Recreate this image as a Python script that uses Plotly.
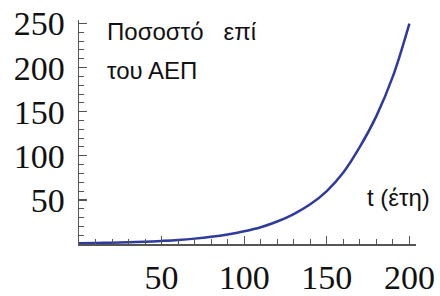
import plotly.graph_objects as go

# Years and share of GDP
t_years = [0, 10, 20, 30, 40, 50, 60, 70, 80, 90, 100, 110, 120, 130, 140, 150, 160, 170, 180, 190, 200]
share = [0.8, 1.1, 1.5, 1.9, 2.6, 3.5, 4.6, 6.1, 8.1, 10.8, 14.4, 19, 25.5, 34, 45, 60, 81, 110, 145, 190, 250]

x_ticks = [50, 100, 150, 200]
y_ticks = [50, 100, 150, 200, 250]

axis_color = "#555555"
curve_color = "#2E3A9C"

fig = go.Figure()
fig.add_trace(go.Scatter(x=t_years, y=share, mode="lines", line=dict(color=curve_color, width=2.5, shape="spline"), showlegend=False, hoverinfo="skip"))

tick_font = dict(family="Liberation Serif", size=34, color="#111111")

PW, PH = 440 - 79 - 24, 296 - 20 - 52

fig.update_layout(
    width=440, height=296,
    margin=dict(l=79, r=24, t=20, b=52),
    paper_bgcolor="white", plot_bgcolor="white",
    xaxis=dict(range=[0, 204], tickvals=x_ticks, ticktext=[str(v) for v in x_ticks], automargin=False,
               showgrid=False, zeroline=False, showline=True, linecolor=axis_color, linewidth=1.5,
               ticks="inside", ticklen=8, tickwidth=1.2, tickcolor=axis_color,
               minor=dict(dtick=10, tick0=0, ticks="inside", ticklen=5, tickwidth=1, tickcolor=axis_color),
               tickfont=tick_font, ticklabelstandoff=3, ticklabeloverflow="allow", fixedrange=True),
    yaxis=dict(range=[0, 254], tickvals=y_ticks, ticktext=[str(v) for v in y_ticks], automargin=False,
               showgrid=False, zeroline=False, showline=True, linecolor=axis_color, linewidth=1.5,
               ticks="inside", ticklen=8, tickwidth=1.2, tickcolor=axis_color,
               minor=dict(dtick=10, tick0=0, ticks="inside", ticklen=5, tickwidth=1, tickcolor=axis_color),
               tickfont=tick_font, ticklabelstandoff=6, ticklabeloverflow="allow", fixedrange=True),
)

label_font = dict(family="Liberation Sans", size=24, color="#111111")
fig.add_annotation(text="Ποσοστό&nbsp;&nbsp;&nbsp;επί", xref="paper", yref="paper", x=(105-79)/PW, y=(244-31)/PH,
                   xanchor="left", yanchor="middle", showarrow=False, font=label_font)
fig.add_annotation(text="του ΑΕΠ", xref="paper", yref="paper", x=(105-79)/PW, y=(244-70)/PH,
                   xanchor="left", yanchor="middle", showarrow=False, font=label_font)
fig.add_annotation(text="t (έτη)", xref="paper", yref="paper", x=(365-79)/PW, y=(244-197)/PH,
                   xanchor="left", yanchor="middle", showarrow=False, font=label_font)

fig.write_html("out.html", config={"displayModeBar": False, "staticPlot": True},
               post_script="document.body.style.margin='0';")
